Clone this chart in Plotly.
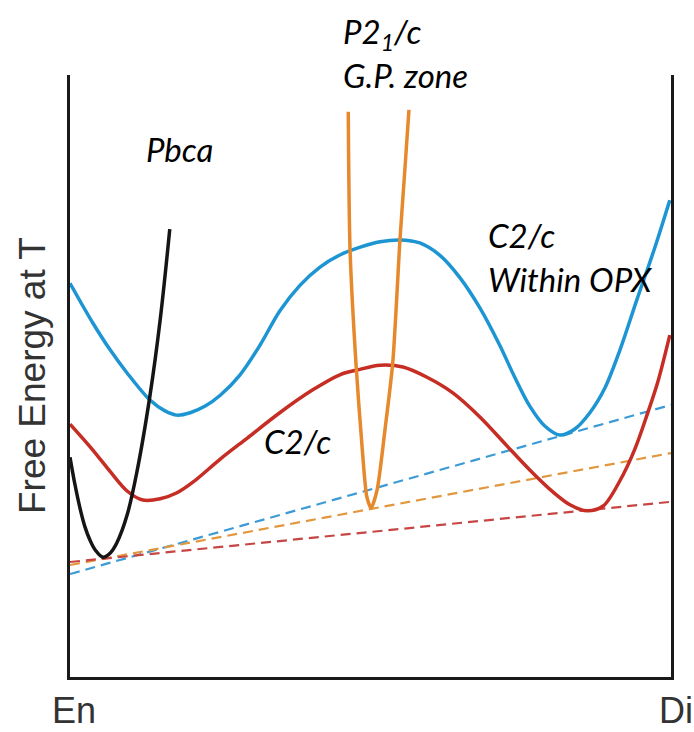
import plotly.graph_objects as go

# Composition axis: 0 = En, 1 = Di ; Free energy in arbitrary units (0 = bottom, 100 = top of frame)
blue_x = [0.000, 0.038, 0.067, 0.095, 0.133, 0.158, 0.178, 0.200, 0.225, 0.250, 0.283, 0.316,
          0.349, 0.383, 0.416, 0.449, 0.483, 0.516, 0.549, 0.582, 0.616, 0.649, 0.682, 0.715,
          0.740, 0.765, 0.790, 0.815, 0.840, 0.865, 0.890, 0.915, 0.943, 0.973, 0.998]
blue_g = [65.4, 58.8, 54.3, 50.5, 46.0, 44.2, 43.5, 43.9, 45.0, 46.8, 50.2, 55.1,
          60.8, 65.1, 68.1, 70.1, 71.4, 72.3, 72.6, 72.1, 70.0, 66.3, 61.3, 55.1,
          49.8, 45.0, 41.7, 40.2, 41.2, 43.9, 48.0, 54.3, 62.6, 71.3, 79.2]

red_x = [0.000, 0.038, 0.067, 0.095, 0.121, 0.150, 0.178, 0.205, 0.250, 0.295, 0.349, 0.404,
         0.449, 0.478, 0.516, 0.554, 0.594, 0.637, 0.682, 0.727, 0.765, 0.804, 0.832, 0.860,
         0.887, 0.915, 0.940, 0.960, 0.978, 0.998]
red_g = [42.0, 37.7, 34.1, 30.9, 29.4, 29.6, 30.6, 32.4, 36.2, 39.7, 43.9, 47.7,
         50.2, 51.0, 51.8, 51.5, 49.8, 47.2, 43.2, 38.4, 34.4, 30.7, 28.6, 27.6,
         28.4, 32.6, 37.9, 43.5, 49.0, 56.8]

black_x = [0.000, 0.008, 0.017, 0.025, 0.033, 0.042, 0.055, 0.067, 0.078, 0.095, 0.111, 0.133, 0.150, 0.166]
black_g = [36.5, 32.1, 27.9, 24.9, 22.8, 21.1, 19.9, 20.6, 22.3, 26.9, 33.9, 46.7, 59.3, 74.4]

orange_x = [0.463, 0.466, 0.476, 0.486, 0.494, 0.501, 0.511, 0.524, 0.537, 0.549, 0.556, 0.564]
orange_g = [93.9, 70.9, 51.8, 38.2, 29.9, 28.1, 31.1, 41.0, 52.2, 72.6, 82.6, 94.2]

tangent_x = [0.0, 1.0]
tangent_blue = [17.1, 45.2]
tangent_orange = [18.6, 37.2]
tangent_red = [19.1, 29.1]

C_BLUE = "#1d95d3"
C_RED = "#c62d24"
C_ORANGE = "#e6892c"
C_BLACK = "#151515"

fig = go.Figure()

for y, c in [(tangent_blue, "#3c9bd6"), (tangent_orange, "#e2973f"), (tangent_red, "#c94545")]:
    fig.add_trace(go.Scatter(x=tangent_x, y=y, mode="lines",
                             line=dict(color=c, width=2.2, dash="10px,6px"),
                             showlegend=False, hoverinfo="skip"))

for xs, ys, c, sm in [(blue_x, blue_g, C_BLUE, 0.9), (red_x, red_g, C_RED, 0.9),
                      (black_x, black_g, C_BLACK, 1.0), (orange_x, orange_g, C_ORANGE, 0.7)]:
    fig.add_trace(go.Scatter(x=xs, y=ys, mode="lines",
                             line=dict(color=c, width=3.5, shape="spline", smoothing=sm),
                             showlegend=False, hoverinfo="skip", cliponaxis=False))

L, R, T, B = 70, 671, 75, 677


def px(xp):
    return (xp - L) / (R - L)


def py(yp):
    return (B - yp) / (B - T)


ital = dict(family="Lato, Open Sans, sans-serif", size=33, color="#000000")
plain = dict(family="Liberation Sans, Arial, sans-serif", size=36, color="#333333")
ylab = dict(family="Liberation Sans, Arial, sans-serif", size=37, color="#333333")

ann = [
    ("<i>Pbca</i>", 144, 149, ital),
    ("<i>C2/c</i>", 262, 441, ital),
    ("<i>C2/c</i>", 486, 235, ital),
    ("<i>Within OPX</i>", 486, 279, ital),
    ("<i>P2<sub>1</sub>/c</i>", 341, 33, ital),
    ("<i>G.P. zone</i>", 341, 75, ital),
    ("En", 50, 710, plain),
    ("Di", 657, 710, plain),
]
annotations = []
for text, xp, yp, f in ann:
    annotations.append(dict(text=text, x=px(xp), y=py(yp), xref="paper", yref="paper",
                            xanchor="left", yanchor="middle", showarrow=False, font=f))
annotations.append(dict(text="Free Energy at T", x=px(32), y=py(376), xref="paper", yref="paper",
                        xanchor="center", yanchor="middle", showarrow=False, textangle=-90,
                        font=ylab))

fig.update_layout(
    width=694, height=732,
    margin=dict(l=L, r=694 - R, t=T, b=732 - B),
    paper_bgcolor="white", plot_bgcolor="white",
    xaxis=dict(range=[0, 1], showgrid=False, zeroline=False, showticklabels=False, ticks="",
               showline=True, linecolor="#1a1a1a", linewidth=3, mirror=False),
    yaxis=dict(range=[0, 100], showgrid=False, zeroline=False, showticklabels=False, ticks="",
               showline=True, linecolor="#1a1a1a", linewidth=3, mirror=True),
    annotations=annotations,
)

fig.write_html("out.html")
